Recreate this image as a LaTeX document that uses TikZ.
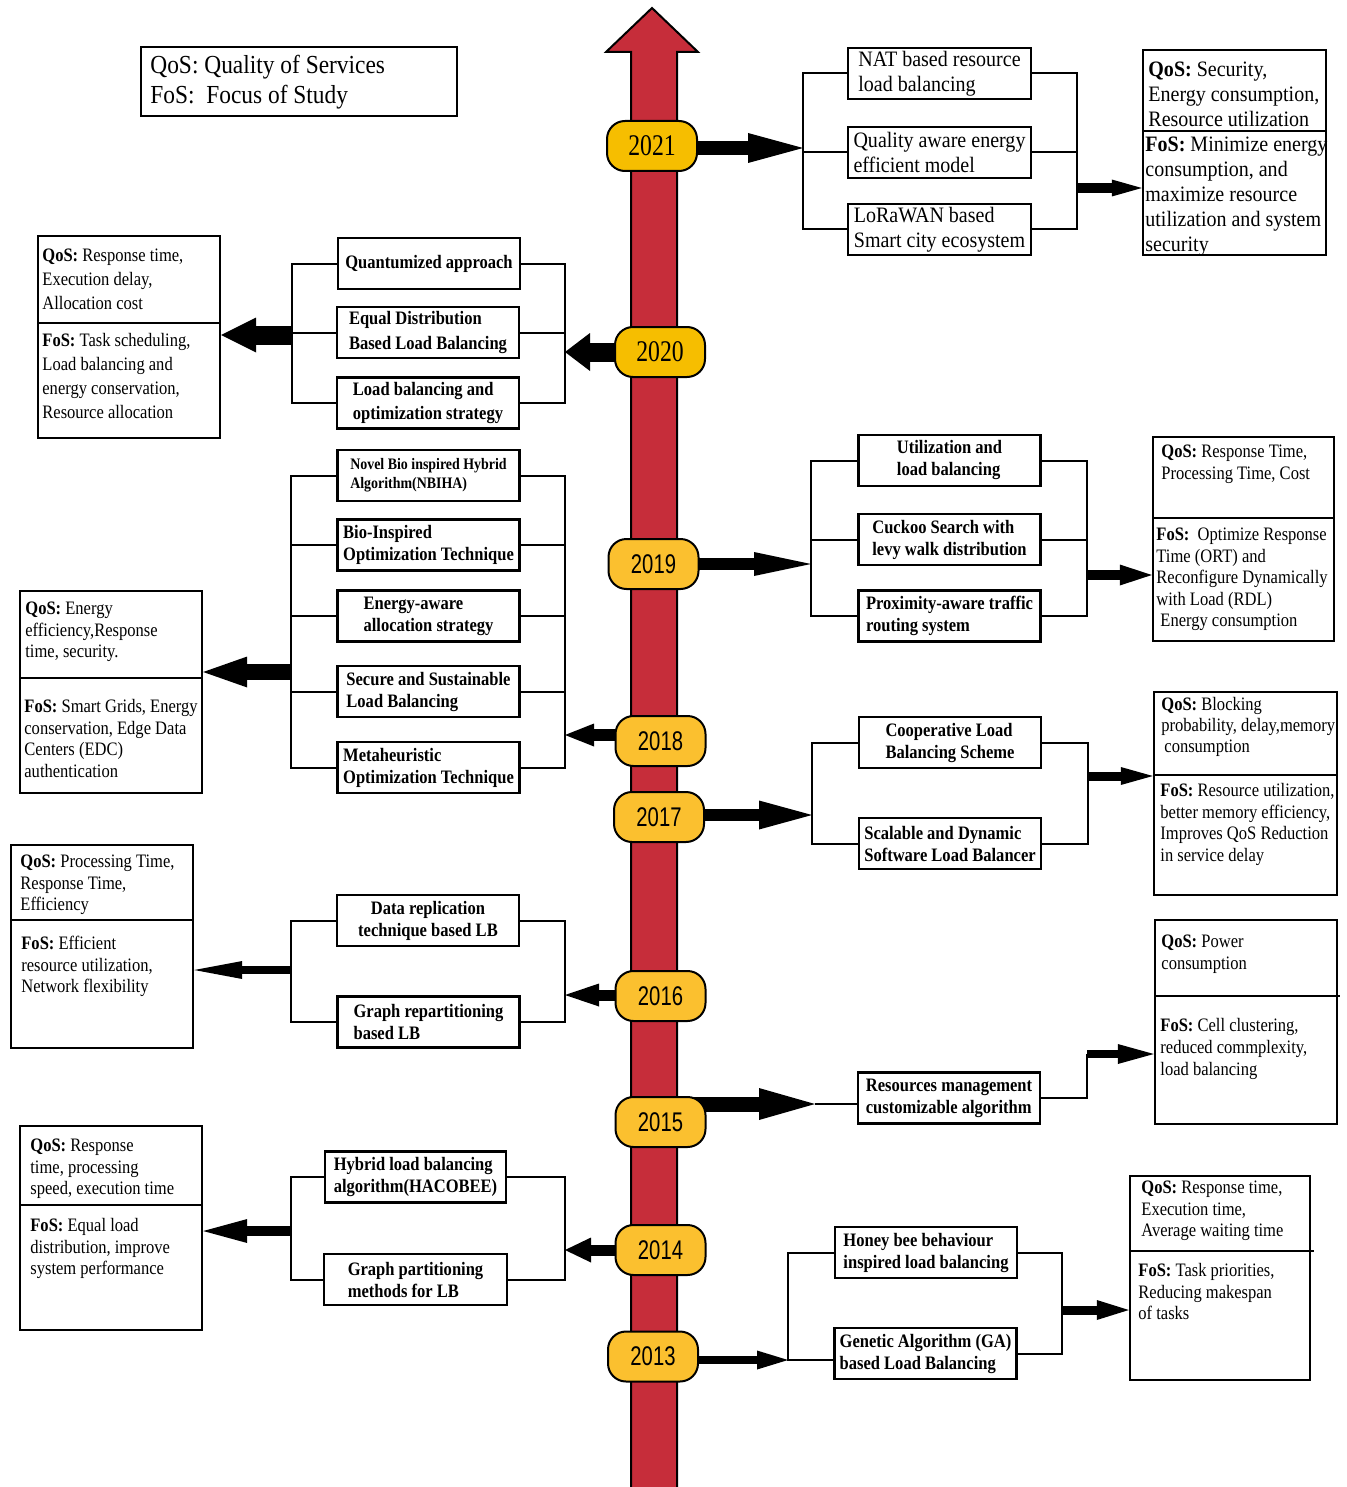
\documentclass[tikz,border=0pt]{standalone}
\usepackage{fontspec}
\setmainfont{Liberation Serif}
\newfontfamily\bxserif[FakeStretch=0.87]{Liberation Serif}
\newfontfamily\wideserif[FakeStretch=0.91]{Liberation Serif}
\newfontfamily\legserif[FakeStretch=0.9]{Liberation Serif}
\newfontfamily\yrserif[FakeStretch=0.79]{Liberation Serif}
\newfontfamily\yrsans[FakeStretch=0.75]{Liberation Sans}
\usetikzlibrary{arrows.meta}

\newcommand\boxtxt{\bxserif\bfseries\fontsize{9.5}{11}\selectfont}
\newcommand\boxtxtwide{\bxserif\bfseries\fontsize{9.5}{12.25}\selectfont}
\newcommand\smalltxt{\bxserif\bfseries\fontsize{8}{9.5}\selectfont}
\newcommand\plaintxt[1]{\bxserif\fontsize{9.5}{#1}\selectfont}
\newcommand\bigtxt{\wideserif\fontsize{11}{12.5}\selectfont}
\newcommand\oldyear{\yrserif\fontsize{15}{15}\selectfont}
\newcommand\newyear{\yrsans\fontsize{13.5}{13.5}\selectfont}

\definecolor{tlred}{HTML}{C62D3A}
\definecolor{yrA}{HTML}{F6BE00}
\definecolor{yrB}{HTML}{FBC02F}

\pgfdeclarelayer{under}
\pgfdeclarelayer{wires}
\pgfsetlayers{under,wires,main}

\tikzset{
  box/.style={draw, line width=1.2pt, fill=white, inner sep=0pt, align=left,
    minimum height=25.5pt, minimum width=91pt, font=\boxtxt},
  resbox/.style={draw, line width=1.2pt, fill=white, inner sep=0pt},
  rtext/.style={anchor=north west, align=left, inner sep=0pt},
  pill/.style={draw, line width=1pt, rounded corners=9pt, minimum width=45pt,
    minimum height=25pt, inner sep=0pt},
  link/.style={line width=1pt},
  split/.style={line width=0.7pt},
  fat/.style n args={3}{line width=#1, -{Triangle[length=#2,width=#3,line width=0pt]}},
}

\begin{document}
\begin{tikzpicture}[x=0.5pt,y=-0.5pt]
\useasboundingbox (0,0) rectangle (1346,1487);

% time axis
\begin{pgfonlayer}{under}
\fill[tlred] (631,1487) -- (631,52) -- (606,52) -- (652,8) -- (698,52) -- (677,52) -- (677,1487) -- cycle;
\draw[line width=1pt, line join=miter] (631,1487) -- (631,52) -- (606,52) -- (652,8) -- (698,52) -- (677,52) -- (677,1487);
\end{pgfonlayer}

% legend
\node[resbox, minimum width=158pt, minimum height=34.5pt] (legend) at (299,81.5) {};
\node[rtext, font=\legserif\fontsize{13}{15}\selectfont] (legtext) at (150,55) {QoS: Quality of Services\\FoS:~ Focus of Study};

% years
\node[pill, fill=yrA, font=\oldyear] (y21) at (652,146) {2021};
\node[pill, fill=yrA, font=\oldyear] (y20) at (660,352) {2020};
\node[pill, fill=yrB, font=\newyear] (y19) at (653.5,564) {2019};
\node[pill, fill=yrB, font=\newyear] (y18) at (660.5,741) {2018};
\node[pill, fill=yrB, font=\newyear] (y17) at (659,817) {2017};
\node[pill, fill=yrB, font=\newyear] (y16) at (660.5,996) {2016};
\node[pill, fill=yrB, font=\newyear] (y15) at (660.5,1122) {2015};
\node[pill, fill=yrB, font=\newyear] (y14) at (660.5,1250) {2014};
\node[pill, fill=yrB, font=\newyear] (y13) at (653,1356.5) {2013};

% ---------------- 2021
\node[box, font=\bigtxt, minimum width=91.5pt] (n21a) at (939.5,73.5) {NAT based resource\\load balancing};
\node[box, font=\bigtxt, minimum width=91.5pt] (n21b) at (939.5,152.5) {Quality aware energy\\efficient model};
\node[box, font=\bigtxt, minimum width=91.5pt] (n21c) at (939.5,229.5) {LoRaWAN based\\Smart city ecosystem};
\node[resbox, minimum width=91.5pt, minimum height=102.5pt] (r21) at (1234.5,152.5) {};
\draw[split] (1143,131) -- (1326,131);
\node[rtext, font=\bigtxt] (r21q) at (1148,62) {\textbf{QoS:} Security,\\Energy consumption,\\Resource utilization};
\node[rtext, font=\bigtxt] (r21f) at (1145,137) {\textbf{FoS:} Minimize energy\\consumption, and\\maximize resource\\utilization and system\\security};

% ---------------- 2020
\node[box] (n20a) at (429,263.5) {Quantumized approach};
\node[box, font=\boxtxtwide] (n20b) at (428,332.5) {Equal Distribution\\Based Load Balancing};
\node[box, font=\boxtxtwide] (n20c) at (428,403) {Load balancing and\\optimization strategy};
\node[resbox, minimum width=91pt, minimum height=101pt] (r20) at (129,337) {};
\draw[split] (38,323) -- (220,323);
\node[rtext, font=\plaintxt{12}] (r20q) at (42,249) {\textbf{QoS:} Response time,\\Execution delay,\\Allocation cost};
\node[rtext, font=\plaintxt{12}] (r20f) at (42,333) {\textbf{FoS:} Task scheduling,\\Load balancing and\\energy conservation,\\Resource allocation};

% ---------------- 2019
\node[box] (n19a) at (949.5,460.5) {Utilization and\\load balancing};
\node[box] (n19b) at (949.5,539.5) {Cuckoo Search with\\levy walk distribution};
\node[box] (n19c) at (949.5,616) {Proximity-aware traffic\\routing system};
\node[resbox, minimum width=90.5pt, minimum height=102pt] (r19) at (1243.5,539) {};
\draw[split] (1153,518) -- (1334,518);
\node[rtext, font=\plaintxt{10.75}] (r19q) at (1161,445) {\textbf{QoS:} Response Time,\\Processing Time, Cost};
\node[rtext, font=\plaintxt{10.75}] (r19f) at (1156,528) {\textbf{FoS:}~ Optimize Response\\Time (ORT) and\\Reconfigure Dynamically\\with Load (RDL)\\\hspace*{2pt}Energy consumption};

% ---------------- 2018
\node[box, font=\smalltxt] (n18a) at (428.5,475.5) {Novel Bio inspired Hybrid\\Algorithm(NBIHA)};
\node[box] (n18b) at (428.5,545) {Bio-Inspired\\Optimization Technique};
\node[box] (n18c) at (428.5,616) {Energy-aware\\allocation strategy};
\node[box] (n18d) at (428.5,691.5) {Secure and Sustainable\\Load Balancing};
\node[box] (n18e) at (428.5,767.5) {Metaheuristic\\Optimization Technique};
\node[resbox, minimum width=91pt, minimum height=101pt] (r18) at (111,692) {};
\draw[split] (20,678) -- (202,678);
\node[rtext, font=\plaintxt{10.75}] (r18q) at (25,602) {\textbf{QoS:} Energy\\efficiency,Response\\time, security.};
\node[rtext, font=\plaintxt{10.75}] (r18f) at (24,699) {\textbf{FoS:} Smart Grids, Energy\\conservation, Edge Data\\Centers (EDC)\\authentication};

% ---------------- 2017
\node[box] (n17a) at (950,742.5) {Cooperative Load\\Balancing Scheme};
\node[box] (n17b) at (950,843.5) {Scalable and Dynamic\\Software Load Balancer};
\node[resbox, minimum width=91.5pt, minimum height=101.5pt] (r17) at (1245.5,793.5) {};
\draw[split] (1154,775) -- (1337,775);
\node[rtext, font=\plaintxt{10.5}] (r17q) at (1161,697) {\textbf{QoS:} Blocking\\probability, delay,memory\\\hspace*{1.5pt}consumption};
\node[rtext, font=\plaintxt{10.75}] (r17f) at (1160,783) {\textbf{FoS:} Resource utilization,\\better memory efficiency,\\Improves QoS Reduction\\in service delay};

% ---------------- 2016
\node[box, align=center] (n16a) at (428,920.5) {Data replication\\technique based LB};
\node[box] (n16b) at (428.5,1022) {Graph repartitioning\\based LB};
\node[resbox, minimum width=91pt, minimum height=101.5pt] (r16) at (102,946.5) {};
\draw[split] (11,920) -- (193,920);
\node[rtext, font=\plaintxt{10.75}] (r16q) at (20,855) {\textbf{QoS:} Processing Time,\\Response Time,\\Efficiency};
\node[rtext, font=\plaintxt{10.75}] (r16f) at (21,936) {\textbf{FoS:} Efficient\\resource utilization,\\Network flexibility};

% ---------------- 2015
\node[box] (n15) at (949,1098) {Resources management\\customizable algorithm};
\node[resbox, minimum width=91pt, minimum height=102pt] (r15) at (1246,1022) {};
\draw[split] (1155,996) -- (1340,996);
\node[rtext, font=\plaintxt{11}] (r15q) at (1161,935) {\textbf{QoS:} Power\\consumption};
\node[rtext, font=\plaintxt{11}] (r15f) at (1160,1018) {\textbf{FoS:} Cell clustering,\\reduced commplexity,\\load balancing};

% ---------------- 2014
\node[box, minimum width=90.5pt] (n14a) at (415.5,1177) {Hybrid load balancing\\algorithm(HACOBEE)};
\node[box, minimum width=91.5pt] (n14b) at (415.5,1279.5) {Graph partitioning\\methods for LB};
\node[resbox, minimum width=91pt, minimum height=102pt] (r14) at (111,1228) {};
\draw[split] (20,1205) -- (202,1205);
\node[rtext, font=\plaintxt{10.75}] (r14q) at (30,1139) {\textbf{QoS:} Response\\time, processing\\speed, execution time};
\node[rtext, font=\plaintxt{10.75}] (r14f) at (30,1218) {\textbf{FoS:} Equal load\\distribution, improve\\system performance};

% ---------------- 2013
\node[box] (n13a) at (926,1252.5) {Honey bee behaviour\\inspired load balancing};
\node[box] (n13b) at (925.5,1353.5) {Genetic Algorithm (GA)\\based Load Balancing};
\node[resbox, minimum width=90pt, minimum height=102pt] (r13) at (1220,1278) {};
\draw[split] (1130,1251) -- (1314,1251);
\node[rtext, font=\plaintxt{10.75}] (r13q) at (1141,1181) {\textbf{QoS:} Response time,\\Execution time,\\Average waiting time};
\node[rtext, font=\plaintxt{10.75}] (r13f) at (1138,1263) {\textbf{FoS:} Task priorities,\\Reducing makespan\\of tasks};

% ---------------- junction points of the brackets
\coordinate (l21) at (803,148);  \coordinate (k21) at (1077,188);
\coordinate (l20) at (565,352);  \coordinate (k20) at (292,335);
\coordinate (l19) at (811,564);  \coordinate (k19) at (1087,575);
\coordinate (l18) at (565,735);  \coordinate (k18) at (291,672);
\coordinate (l17) at (812,815);  \coordinate (k17) at (1088,776);
\coordinate (l16) at (565,995);  \coordinate (k16) at (291,970);
\coordinate (l15) at (815,1104); \coordinate (k15) at (1087,1054);
\coordinate (l14) at (565,1250); \coordinate (k14) at (291,1231);
\coordinate (l13) at (788,1360); \coordinate (k13) at (1062,1310);

\begin{pgfonlayer}{wires}
% 2021
\draw[fat={7pt}{27.5pt}{15pt}] (y21.center |- l21) -- (l21);
\draw[link] (n21a.west) -- (n21a.west -| l21) -- (n21c.west -| l21) -- (n21c.west);
\draw[link] (n21b.west) -- (n21b.west -| l21);
\draw[link] (n21a.east) -- (n21a.east -| k21) -- (n21c.east -| k21) -- (n21c.east);
\draw[link] (n21b.east) -- (n21b.east -| k21);
\draw[fat={5pt}{15pt}{8.5pt}] (k21) -- (k21 -| r21.west);
% 2020
\draw[fat={9.5pt}{12.5pt}{19pt}] (y20.center |- l20) -- (l20);
\draw[link] (n20a.east) -- (n20a.east -| l20) -- (n20c.east -| l20) -- (n20c.east);
\draw[link] (n20b.east) -- (n20b.east -| l20);
\draw[link] (n20a.west) -- (n20a.west -| k20) -- (n20c.west -| k20) -- (n20c.west);
\draw[link] (n20b.west) -- (n20b.west -| k20);
\draw[fat={9.5pt}{17.5pt}{17.5pt}] (k20) -- (k20 -| r20.east);
% 2019
\draw[fat={6pt}{28.5pt}{12pt}] (y19.center |- l19) -- (l19);
\draw[link] (n19a.west) -- (n19a.west -| l19) -- (n19c.west -| l19) -- (n19c.west);
\draw[link] (n19b.west) -- (n19b.west -| l19);
\draw[link] (n19a.east) -- (n19a.east -| k19) -- (n19c.east -| k19) -- (n19c.east);
\draw[link] (n19b.east) -- (n19b.east -| k19);
\draw[fat={5pt}{16pt}{10.5pt}] (k19) -- (k19 -| r19.west);
% 2018
\draw[fat={6pt}{14.5pt}{11.5pt}] (y18.center |- l18) -- (l18);
\draw[link] (n18a.east) -- (n18a.east -| l18) -- (n18e.east -| l18) -- (n18e.east);
\foreach \b in {n18b,n18c,n18d} \draw[link] (\b.east) -- (\b.east -| l18);
\draw[link] (n18a.west) -- (n18a.west -| k18) -- (n18e.west -| k18) -- (n18e.west);
\foreach \b in {n18b,n18c,n18d} \draw[link] (\b.west) -- (\b.west -| k18);
\draw[fat={8pt}{22pt}{15.5pt}] (k18) -- (k18 -| r18.east);
% 2017
\draw[fat={6pt}{26.5pt}{14.5pt}] (y17.center |- l17) -- (l17);
\draw[link] (n17a.west) -- (n17a.west -| l17) -- (n17b.west -| l17) -- (n17b.west);
\draw[link] (n17a.east) -- (n17a.east -| k17) -- (n17b.east -| k17) -- (n17b.east);
\draw[fat={4.5pt}{16pt}{9pt}] (k17) -- (k17 -| r17.west);
% 2016
\draw[fat={5.5pt}{17pt}{11.5pt}] (y16.center |- l16) -- (l16);
\draw[link] (n16a.east) -- (n16a.east -| l16) -- (n16b.east -| l16) -- (n16b.east);
\draw[link] (n16a.west) -- (n16a.west -| k16) -- (n16b.west -| k16) -- (n16b.west);
\draw[fat={4pt}{24pt}{9pt}] (k16) -- (k16 -| r16.east);
% 2015
\draw[fat={7.5pt}{28pt}{16pt}] (y15.center |- l15) -- (l15);
\draw[link] (l15) -- (l15 -| n15.west);
\draw[link] (n15.east) -- (n15.east -| k15) -- (k15);
\draw[fat={4pt}{18pt}{10pt}] (k15) -- (k15 -| r15.west);
% 2014
\draw[fat={5.5pt}{13pt}{12.5pt}] (y14.center |- l14) -- (l14);
\draw[link] (n14a.east) -- (n14a.east -| l14) -- (n14b.east -| l14) -- (n14b.east);
\draw[link] (n14a.west) -- (n14a.west -| k14) -- (n14b.west -| k14) -- (n14b.west);
\draw[fat={5pt}{22pt}{12pt}] (k14) -- (k14 -| r14.east);
% 2013
\draw[fat={4pt}{15.5pt}{9.5pt}] (y13.center |- l13) -- (l13);
\draw[link] (n13a.west) -- (n13a.west -| l13) -- (l13) -- (l13 -| n13b.west);
\draw[link] (n13a.east) -- (n13a.east -| k13) -- (n13b.east -| k13) -- (n13b.east);
\draw[fat={4.5pt}{16pt}{10pt}] (k13) -- (k13 -| r13.west);
\end{pgfonlayer}
\end{tikzpicture}
\end{document}
